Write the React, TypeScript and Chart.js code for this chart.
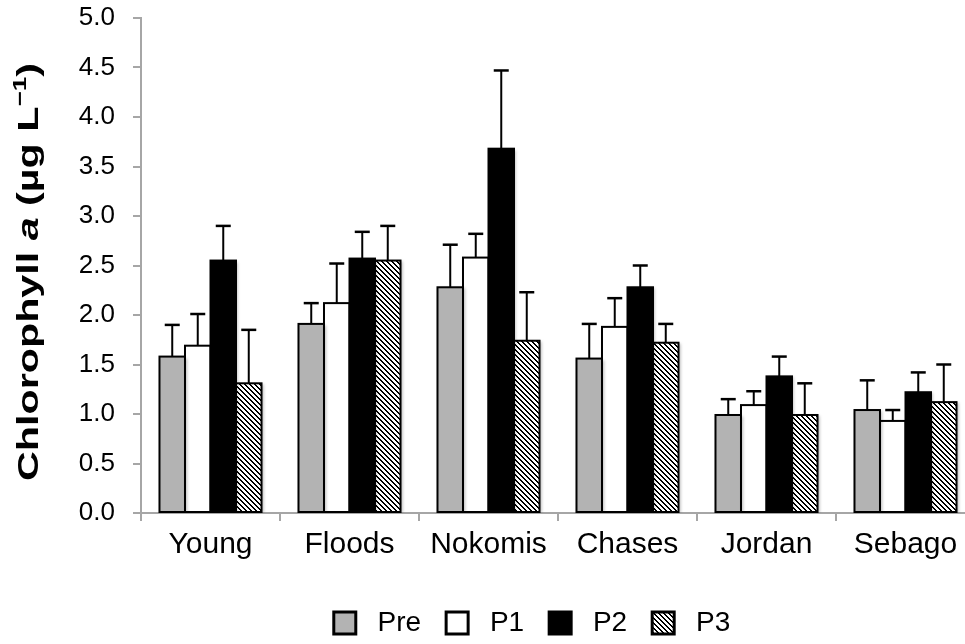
import React, { useEffect, useRef } from 'react';
import { Chart, registerables } from 'chart.js';

Chart.register(...registerables);

// ---------------- data ----------------
const CATEGORIES = ['Young', 'Floods', 'Nokomis', 'Chases', 'Jordan', 'Sebago'];
const SERIES_NAMES = ['Pre', 'P1', 'P2', 'P3'];

const PRE = [1.58, 1.91, 2.28, 1.56, 0.99, 1.04];
const PRE_ERR = [0.32, 0.21, 0.43, 0.35, 0.16, 0.3];
const P1 = [1.69, 2.12, 2.58, 1.88, 1.09, 0.93];
const P1_ERR = [0.32, 0.4, 0.24, 0.29, 0.14, 0.11];
const P2 = [2.55, 2.57, 3.68, 2.28, 1.38, 1.22];
const P2_ERR = [0.35, 0.27, 0.79, 0.22, 0.2, 0.2];
const P3 = [1.31, 2.55, 1.74, 1.72, 0.99, 1.12];
const P3_ERR = [0.54, 0.35, 0.49, 0.19, 0.32, 0.38];

const Y_TICK_LABELS = ['0.0', '0.5', '1.0', '1.5', '2.0', '2.5', '3.0', '3.5', '4.0', '4.5', '5.0'];

// y-axis title pieces: [text, style]
const Y_TITLE_PARTS: [string, string][] = [
  ['Chlorophyll ', 'normal'],
  ['a', 'italic'],
  [' (\u00b5g L', 'normal'],
  ['\u22121', 'sup'],
  [')', 'normal'],
];

// ---------------- layout constants ----------------
const CW = 1064; // canvas width (runs past the visible 965px; clipped by wrapper)
const CH = 644;
const FONT = "'Liberation Sans', Arial, Helvetica, sans-serif";
const AXIS_GREY = '#a6a6a6';
const TITLE_FONT = 30;
const TITLE_LEN = 418;
const TITLE_X = 27;
const TITLE_CY = 272;

function makeHatch(): CanvasPattern | string {
  const c = document.createElement('canvas');
  c.width = 5;
  c.height = 5;
  const g = c.getContext('2d');
  if (!g) return '#888';
  g.fillStyle = '#fff';
  g.fillRect(0, 0, 5, 5);
  g.fillStyle = '#000';
  for (let y = 0; y < 5; y++) {
    g.fillRect(y, y, 1, 1);
    g.fillRect((y + 1) % 5, y, 1, 1);
  }
  return g.createPattern(c, 'repeat') || '#888';
}

const barDecor = {
  id: 'barDecor',
  beforeDatasetsDraw(chart: any) {
    const ctx = chart.ctx;
    ctx.save();
    ctx.shadowColor = 'rgba(0,0,0,0.28)';
    ctx.shadowBlur = 3;
    ctx.shadowOffsetX = 2;
    ctx.shadowOffsetY = 1;
  },
  afterDatasetsDraw(chart: any) {
    const ctx = chart.ctx;
    ctx.restore();
    const ys = chart.scales.y;
    ctx.save();
    ctx.strokeStyle = '#000';
    chart.data.datasets.forEach((ds: any, i: number) => {
      const meta = chart.getDatasetMeta(i);
      meta.data.forEach((el: any) => {
        const p = el.getProps(['x', 'y', 'base', 'width'], true);
        ctx.lineWidth = 2;
        ctx.strokeRect(p.x - p.width / 2, p.y, p.width, p.base - p.y);
      });
    });
    chart.data.datasets.forEach((ds: any, i: number) => {
      const meta = chart.getDatasetMeta(i);
      meta.data.forEach((el: any, j: number) => {
        const p = el.getProps(['x', 'y'], true);
        const ey = ys.getPixelForValue(ds.data[j] + ds.errors[j]);
        ctx.lineWidth = 2;
        ctx.beginPath();
        ctx.moveTo(p.x, p.y);
        ctx.lineTo(p.x, ey);
        ctx.stroke();
        ctx.lineWidth = 2.5;
        ctx.beginPath();
        ctx.moveTo(p.x - 7.5, ey);
        ctx.lineTo(p.x + 7.5, ey);
        ctx.stroke();
      });
    });
    ctx.restore();
  },
};

const yTitle = {
  id: 'yTitle',
  afterDraw(chart: any) {
    const ctx = chart.ctx;
    const F = TITLE_FONT;
    const fontFor = (s: string) =>
      s === 'italic'
        ? `italic bold ${F}px ${FONT}`
        : s === 'sup'
        ? `bold ${Math.round(F * 0.62)}px ${FONT}`
        : `bold ${F}px ${FONT}`;
    ctx.save();
    let total = 0;
    const widths = Y_TITLE_PARTS.map(([t, s]) => {
      ctx.font = fontFor(s);
      const w = ctx.measureText(t).width;
      total += w;
      return w;
    });
    const k = TITLE_LEN / total;
    ctx.translate(TITLE_X, TITLE_CY);
    ctx.rotate(-Math.PI / 2);
    ctx.scale(k, 1);
    ctx.fillStyle = '#000';
    ctx.textBaseline = 'alphabetic';
    ctx.textAlign = 'left';
    let x = -total / 2;
    const base = F * 0.35;
    Y_TITLE_PARTS.forEach(([t, s], idx) => {
      ctx.font = fontFor(s);
      ctx.fillText(t, x, s === 'sup' ? base - F * 0.38 : base);
      x += widths[idx];
    });
    ctx.restore();
  },
};

export default function App() {
  const ref = useRef<HTMLCanvasElement>(null);

  useEffect(() => {
    const canvas = ref.current;
    if (!canvas) return;
    Chart.defaults.font.family = FONT;
    const hatch = makeHatch();
    const values = [PRE, P1, P2, P3];
    const errors = [PRE_ERR, P1_ERR, P2_ERR, P3_ERR];
    const fills: any[] = ['#b3b3b3', '#ffffff', '#000000', hatch];

    const chart = new Chart(canvas, {
      type: 'bar',
      data: {
        labels: CATEGORIES,
        datasets: SERIES_NAMES.map((name, i) => ({
          label: name,
          data: values[i],
          errors: errors[i],
          backgroundColor: fills[i],
          borderWidth: 0,
          categoryPercentage: 0.734,
          barPercentage: 1,
        })) as any,
      },
      options: {
        animation: false,
        responsive: false,
        devicePixelRatio: 1,
        events: [],
        layout: { padding: { left: 0, right: 0, top: 18, bottom: 0 } },
        plugins: {
          tooltip: { enabled: false },
          legend: {
            position: 'bottom',
            align: 'center',
            maxHeight: 60,
            labels: {
              font: { size: 28, family: FONT },
              color: '#000',
              boxWidth: 22,
              boxHeight: 22,
              padding: 25,
              generateLabels: (c: any) =>
                c.data.datasets.map((ds: any, i: number) => ({
                  text: ' ' + ds.label,
                  fillStyle: ds.backgroundColor,
                  strokeStyle: '#000',
                  lineWidth: 3,
                  hidden: false,
                  datasetIndex: i,
                  fontColor: '#000',
                })),
            },
          },
        },
        scales: {
          x: {
            grid: {
              offset: true,
              drawOnChartArea: false,
              drawTicks: true,
              tickLength: 8,
              color: AXIS_GREY,
              lineWidth: 2,
            },
            border: { color: AXIS_GREY, width: 2 },
            ticks: {
              font: { size: 30, family: FONT },
              color: '#000',
              padding: 6,
              maxRotation: 0,
              autoSkip: false,
            },
            afterFit: (s: any) => {
              s.height = 71;
            },
          },
          y: {
            min: 0,
            max: 5,
            ticks: {
              stepSize: 0.5,
              font: { size: 26, family: FONT },
              color: '#000',
              padding: 18,
              callback: (_v: any, i: number) => Y_TICK_LABELS[i],
            },
            grid: {
              drawOnChartArea: false,
              tickLength: 8,
              color: AXIS_GREY,
              lineWidth: 2,
            },
            border: { color: AXIS_GREY, width: 2 },
            afterFit: (s: any) => {
              s.width = 141;
              s.paddingTop = 0;
              s.paddingBottom = 0;
            },
          },
          // invisible spacer on the right, keeps the legend where the reference has it
          spacer: {
            type: 'linear',
            position: 'right',
            display: true,
            grid: { display: false, drawTicks: false },
            border: { display: false },
            ticks: { display: false },
            afterFit: (s: any) => {
              s.width = 89;
              s.paddingTop = 0;
              s.paddingBottom = 0;
            },
          },
        },
      } as any,
      plugins: [barDecor, yTitle],
    });
    return () => chart.destroy();
  }, []);

  return (
    <div
      style={{
        position: 'fixed',
        left: 0,
        top: 0,
        width: 965,
        height: 644,
        overflow: 'hidden',
        background: '#fff',
      }}
    >
      <canvas ref={ref} width={CW} height={CH} style={{ display: 'block', width: CW, height: CH }} />
    </div>
  );
}
